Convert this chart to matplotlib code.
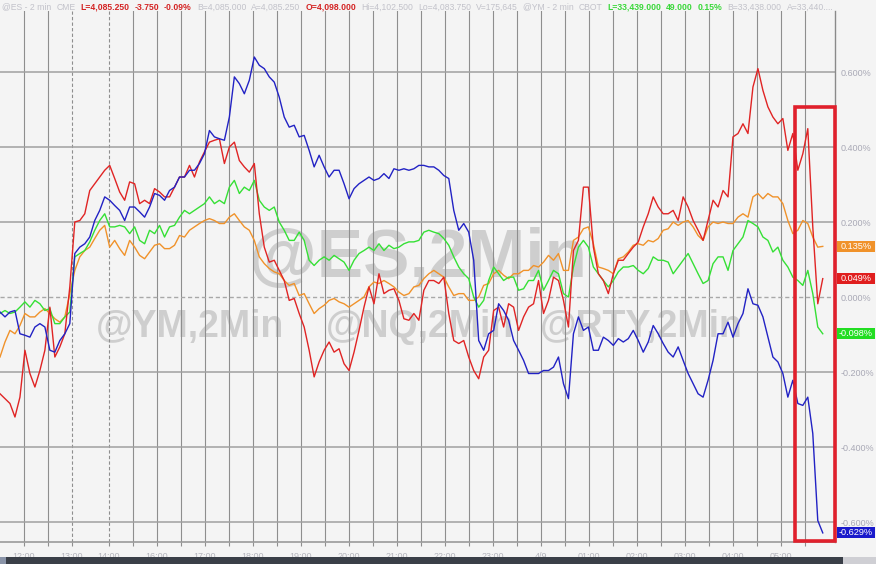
import numpy as np
import matplotlib
matplotlib.use("Agg")
import matplotlib.pyplot as plt
from matplotlib.patches import Rectangle
import matplotlib.transforms as mtransforms

plt.rcParams['font.family'] = ['Liberation Sans', 'DejaVu Sans']

# ---------------- data (% change) ----------------
blue_nq = [
    -0.040, -0.053, -0.040, -0.036, -0.098, -0.102, -0.107, -0.080, -0.071, -0.080,
    -0.142, -0.147, -0.116, -0.098, -0.071, 0.116, 0.133, 0.142, 0.160, 0.204,
    0.231, 0.267, 0.258, 0.244, 0.231, 0.204, 0.240, 0.240, 0.227, 0.213,
    0.240, 0.276, 0.271, 0.258, 0.284, 0.293, 0.320, 0.320, 0.338, 0.338,
    0.356, 0.382, 0.444, 0.427, 0.422, 0.418, 0.480, 0.587, 0.569, 0.542,
    0.578, 0.640, 0.618, 0.609, 0.587, 0.573, 0.533, 0.480, 0.453, 0.458,
    0.427, 0.431, 0.391, 0.347, 0.378, 0.347, 0.320, 0.338, 0.338, 0.302,
    0.262, 0.289, 0.302, 0.311, 0.320, 0.311, 0.316, 0.329, 0.316, 0.342,
    0.338, 0.342, 0.338, 0.342, 0.351, 0.351, 0.347, 0.347, 0.338, 0.324,
    0.316, 0.231, 0.178, 0.196, 0.173, 0.098, -0.116, -0.142, -0.098, -0.089,
    -0.018, -0.036, -0.062, -0.116, -0.142, -0.169, -0.204, -0.204, -0.204, -0.196,
    -0.196, -0.187, -0.160, -0.231, -0.271, -0.098, -0.053, -0.089, -0.080, -0.142,
    -0.142, -0.107, -0.116, -0.129, -0.111, -0.120, -0.111, -0.089, -0.116, -0.147,
    -0.120, -0.076, -0.098, -0.124, -0.147, -0.160, -0.133, -0.169, -0.204, -0.231,
    -0.258, -0.267, -0.222, -0.169, -0.098, -0.098, -0.067, -0.107, -0.071, -0.044,
    0.022, -0.018, -0.022, -0.053, -0.107, -0.160, -0.173, -0.204, -0.267, -0.222,
    -0.284, -0.289, -0.267, -0.364, -0.596, -0.629]

red_rty = [
    -0.258, -0.271, -0.284, -0.320, -0.267, -0.142, -0.204, -0.240, -0.196, -0.142,
    -0.027, -0.160, -0.133, -0.098, 0.027, 0.200, 0.204, 0.222, 0.284, 0.302,
    0.320, 0.338, 0.351, 0.316, 0.280, 0.258, 0.307, 0.302, 0.249, 0.258,
    0.249, 0.289, 0.280, 0.267, 0.267, 0.293, 0.320, 0.320, 0.351, 0.320,
    0.360, 0.387, 0.413, 0.418, 0.422, 0.356, 0.400, 0.413, 0.364, 0.347,
    0.333, 0.356, 0.222, 0.133, 0.093, 0.098, 0.071, 0.044, -0.009, -0.004,
    -0.044, -0.080, -0.142, -0.213, -0.173, -0.142, -0.120, -0.147, -0.138, -0.178,
    -0.196, -0.147, -0.089, -0.027, 0.027, -0.018, 0.062, 0.009, 0.018, 0.022,
    -0.009, -0.058, -0.062, -0.044, -0.062, 0.018, 0.044, 0.044, 0.036, 0.053,
    -0.044, -0.116, -0.124, -0.116, -0.160, -0.196, -0.218, -0.160, -0.142, -0.036,
    -0.027, -0.080, -0.018, -0.027, -0.089, -0.053, -0.027, -0.018, 0.044, -0.044,
    -0.009, 0.053, 0.044, -0.009, -0.080, 0.124, 0.151, 0.293, 0.293, 0.133,
    0.062, 0.044, 0.009, 0.062, 0.098, 0.098, 0.116, 0.133, 0.147, 0.187,
    0.222, 0.267, 0.240, 0.222, 0.222, 0.231, 0.204, 0.267, 0.240, 0.204,
    0.178, 0.151, 0.204, 0.258, 0.240, 0.284, 0.267, 0.427, 0.436, 0.462,
    0.436, 0.560, 0.609, 0.551, 0.507, 0.480, 0.462, 0.476, 0.391, 0.436,
    0.338, 0.382, 0.449, 0.187, -0.018, 0.049]

green_ym = [
    -0.044, -0.036, -0.044, -0.040, -0.027, -0.013, -0.027, -0.009, -0.018, -0.036,
    -0.031, -0.071, -0.071, -0.053, -0.040, 0.107, 0.116, 0.124, 0.147, 0.178,
    0.204, 0.222, 0.187, 0.187, 0.191, 0.187, 0.169, 0.187, 0.151, 0.142,
    0.178, 0.169, 0.191, 0.160, 0.187, 0.191, 0.213, 0.231, 0.222, 0.231,
    0.240, 0.249, 0.267, 0.249, 0.258, 0.249, 0.293, 0.311, 0.276, 0.293,
    0.284, 0.311, 0.258, 0.240, 0.231, 0.240, 0.200, 0.178, 0.151, 0.151,
    0.173, 0.151, 0.098, 0.084, 0.098, 0.107, 0.098, 0.111, 0.102, 0.093,
    0.071, 0.098, 0.116, 0.124, 0.133, 0.124, 0.142, 0.124, 0.138, 0.129,
    0.133, 0.142, 0.147, 0.147, 0.151, 0.173, 0.178, 0.173, 0.169, 0.156,
    0.138, 0.107, 0.080, 0.062, 0.049, 0.000, -0.027, -0.009, 0.044, 0.080,
    0.062, 0.044, 0.053, 0.053, 0.018, 0.022, 0.044, 0.044, 0.071, 0.018,
    0.044, 0.071, 0.062, 0.009, 0.000, 0.080, 0.133, 0.151, 0.133, 0.080,
    0.062, 0.044, 0.027, 0.044, 0.067, 0.080, 0.080, 0.084, 0.071, 0.062,
    0.076, 0.107, 0.098, 0.098, 0.093, 0.062, 0.080, 0.098, 0.116, 0.089,
    0.062, 0.036, 0.044, 0.089, 0.107, 0.107, 0.071, 0.124, 0.142, 0.160,
    0.204, 0.196, 0.187, 0.160, 0.151, 0.120, 0.133, 0.098, 0.080, 0.053,
    0.044, 0.031, 0.071, 0.009, -0.080, -0.098]

orange_es = [
    -0.160, -0.120, -0.089, -0.098, -0.076, -0.044, -0.053, -0.053, -0.040, -0.031,
    -0.044, -0.058, -0.067, -0.053, 0.009, 0.071, 0.107, 0.124, 0.133, 0.156,
    0.178, 0.191, 0.133, 0.151, 0.129, 0.111, 0.151, 0.133, 0.111, 0.102,
    0.120, 0.138, 0.142, 0.129, 0.129, 0.138, 0.164, 0.160, 0.178, 0.187,
    0.196, 0.204, 0.209, 0.204, 0.196, 0.196, 0.213, 0.222, 0.204, 0.187,
    0.178, 0.151, 0.107, 0.089, 0.076, 0.067, 0.062, 0.044, 0.031, 0.036,
    0.004, 0.009, -0.018, -0.044, -0.031, -0.022, -0.009, -0.004, -0.013, -0.018,
    -0.027, -0.018, -0.009, 0.000, 0.027, 0.040, 0.036, 0.044, 0.036, 0.027,
    0.013, 0.004, 0.009, 0.027, 0.031, 0.049, 0.062, 0.071, 0.062, 0.053,
    0.027, 0.004, 0.009, 0.009, -0.009, -0.009, 0.000, 0.031, 0.036, 0.062,
    0.071, 0.058, 0.049, 0.062, 0.062, 0.071, 0.071, 0.084, 0.080, 0.093,
    0.111, 0.098, 0.116, 0.071, 0.071, 0.151, 0.160, 0.182, 0.187, 0.142,
    0.080, 0.076, 0.071, 0.062, 0.102, 0.107, 0.120, 0.138, 0.142, 0.138,
    0.151, 0.147, 0.156, 0.178, 0.182, 0.200, 0.191, 0.200, 0.204, 0.187,
    0.164, 0.151, 0.187, 0.200, 0.196, 0.200, 0.196, 0.196, 0.213, 0.222,
    0.213, 0.267, 0.276, 0.262, 0.276, 0.267, 0.267, 0.249, 0.204, 0.169,
    0.178, 0.204, 0.196, 0.160, 0.133, 0.135]

series_colors = {"ES": "#f0922a", "YM": "#35e035", "RTY": "#e02424", "NQ": "#2222c4"}
last_labels = ["0.135%", "0.049%", "-0.098%", "-0.629%"]

x_labels = ["12:00", "13:00", "14:00", "16:00", "17:00", "18:00", "19:00", "20:00",
            "21:00", "22:00", "23:00", "4/9", "01:00", "02:00", "03:00", "04:00", "05:00"]
y_ticks = [-0.6, -0.4, -0.2, 0.0, 0.2, 0.4, 0.6]

# x axis in half-hour slots (session break between 13:00 and 14:00)
pre_grid = [1, 2, 3]
post_start = 4.53
post_grid = [post_start + k for k in range(30)]
grid_x = pre_grid + post_grid
label_pos = [1, 3] + [post_start + 2 * k for k in range(15)]
x_min, x_max = 0.0, 34.79
data_end = 34.28

# ---------------- figure ----------------
W, H = 876, 564
BG = "#f4f4f4"
fig = plt.figure(figsize=(W / 100, H / 100), dpi=100, facecolor=BG)
ax = fig.add_axes([0, 22 / H, 835 / W, 531 / H])
ax.set_facecolor(BG)
ax.set_xlim(x_min, x_max)
ax.set_ylim(-0.6533, 0.7627)

# grid
for gx in grid_x:
    dashed = gx in (3, post_start)
    ax.axvline(gx, color="#8e8e8e", lw=0.8, ls=(0, (3, 2)) if dashed else "-", zorder=1)
for gy in y_ticks:
    if gy == 0:
        ax.axhline(gy, color="#a8a8a8", lw=1.0, ls=(0, (3, 2)), zorder=1)
    else:
        ax.axhline(gy, color="#a0a0a0", lw=1.1, zorder=1)

# watermarks
wm_kw = dict(transform=fig.transFigure, color="#b0b0b0", alpha=0.55, fontweight="bold",
             ha="center", va="baseline", zorder=0.5, clip_on=False)
ax.text(418 / W, 1 - 277 / H, "@ES,2Min", fontsize=50, **wm_kw)
ax.text(190 / W, 1 - 337 / H, "@YM,2Min", fontsize=27, **wm_kw)
ax.text(420 / W, 1 - 337 / H, "@NQ,2Min", fontsize=27, **wm_kw)
ax.text(641 / W, 1 - 337 / H, "@RTY,2Min", fontsize=27, **wm_kw)

# lines
order = [("ES", orange_es), ("YM", green_ym), ("RTY", red_rty), ("NQ", blue_nq)]
for name, vals in order:
    xs = np.linspace(0, data_end, len(vals))
    ax.plot(xs, vals, color=series_colors[name], lw=1.0, zorder=3)

# axes styling
for s in ("top", "left"):
    ax.spines[s].set_visible(False)
ax.spines["bottom"].set_color("#9a9a9a")
ax.spines["bottom"].set_linewidth(1.2)
ax.spines["right"].set_color("#8a8a8a")
ax.spines["right"].set_linewidth(1.0)

ax.set_xticks(grid_x)
lab_map = {round(p, 2): l for p, l in zip(label_pos, x_labels)}
ax.set_xticklabels([lab_map.get(round(g, 2), "") for g in grid_x])
ax.tick_params(axis="x", length=3, color="#8e8e8e", labelsize=6.5, labelcolor="#b4b4bc", pad=4)

ax.yaxis.tick_right()
ax.set_yticks(y_ticks)
ax.set_yticklabels([f"{v:.3f}%" for v in y_ticks])
ax.tick_params(axis="y", length=0, labelsize=6.5, labelcolor="#a9a9b6", pad=4)

# red highlight box
ax.add_patch(Rectangle((33.12, -0.651), x_max - 33.12, 0.507 + 0.651, fill=False,
                       ec="#e0202c", lw=2.6, zorder=5, clip_on=False))

# last value tags
blend = mtransforms.blended_transform_factory(fig.transFigure, ax.transData)
tag_colors = [series_colors["ES"], "#e01e1e", "#22dd22", "#1a1acc"]
last_vals = [orange_es[-1], red_rty[-1], green_ym[-1], blue_nq[-1]]
for v, lab, c in zip(last_vals, last_labels, tag_colors):
    r = Rectangle((837 / W, v - 0.0147), 38 / W, 0.0293, transform=blend,
                  fc=c, ec="none", zorder=6, clip_on=False)
    ax.add_patch(r)
    ax.text(856 / W, v, lab, transform=blend, ha="center", va="center", color="white",
            fontsize=6.6, zorder=7, clip_on=False)

# header line
segments = [
    ("@ES - 2 min", "#c2c2ca", False), ("CME", "#c2c2ca", False),
    ("L=4,085.250", "#d42424", True), ("-3.750", "#d42424", True), ("-0.09%", "#d42424", True),
    ("B=4,085.000", "#c2c2ca", False), ("A=4,085.250", "#c2c2ca", False),
    ("O=4,098.000", "#d42424", True),
    ("Hi=4,102.500", "#c2c2ca", False), ("Lo=4,083.750", "#c2c2ca", False),
    ("V=175,645", "#c2c2ca", False), ("@YM - 2 min", "#c2c2ca", False), ("CBOT", "#c2c2ca", False),
    ("L=33,439.000", "#3ad83a", True), ("49.000", "#3ad83a", True), ("0.15%", "#3ad83a", True),
    ("B=33,438.000", "#c2c2ca", False), ("A=33,440....", "#c2c2ca", False),
]
renderer = fig.canvas.get_renderer()
xp = 2
for s, c, b in segments:
    t = fig.text(xp / W, 1 - 7 / H, s, color=c, fontsize=6.2,
                 fontweight="bold" if b else "normal", ha="left", va="center")
    xp += t.get_window_extent(renderer).width + 5

# bottom scrollbar
fig.patches.append(Rectangle((0, 0), 6 / W, 7 / H, transform=fig.transFigure, fc="#8a94a8", ec="none"))
fig.patches.append(Rectangle((6 / W, 0), 837 / W, 7 / H, transform=fig.transFigure, fc="#3a3f48", ec="none"))
fig.patches.append(Rectangle((843 / W, 0), 33 / W, 7 / H, transform=fig.transFigure, fc="#cfcfd4", ec="none"))

fig.savefig("out.png", dpi=100, facecolor=BG)
